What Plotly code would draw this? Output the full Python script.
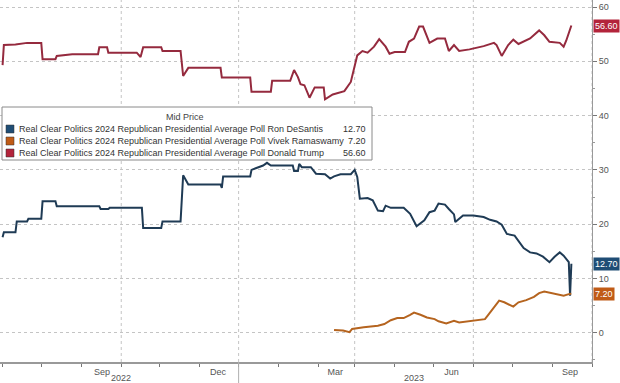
import plotly.graph_objects as go

# ---------------- data ----------------
trump_dates = ["2022-06-01","2022-06-02","2022-06-11","2022-06-20","2022-07-01","2022-07-02","2022-07-12","2022-07-13",
    "2022-07-25","2022-08-14","2022-08-15","2022-08-21","2022-08-22","2022-09-13","2022-09-16","2022-09-18","2022-10-02",
    "2022-10-03","2022-10-17","2022-10-19","2022-10-23","2022-11-17","2022-11-18","2022-12-10","2022-12-11","2022-12-26",
    "2022-12-27","2023-01-10","2023-01-13","2023-01-16","2023-01-18","2023-01-21","2023-01-25","2023-01-29","2023-02-05",
    "2023-02-06","2023-02-12","2023-02-21","2023-02-26","2023-03-01","2023-03-03","2023-03-07","2023-03-11","2023-03-16",
    "2023-03-20","2023-03-25","2023-03-28","2023-04-01","2023-04-09","2023-04-12","2023-04-16","2023-04-20","2023-04-23",
    "2023-04-28","2023-05-04","2023-05-10","2023-05-13","2023-05-17","2023-05-21","2023-05-29","2023-06-09","2023-06-17",
    "2023-06-19","2023-06-23","2023-06-28","2023-07-02","2023-07-06","2023-07-15","2023-07-22","2023-07-26","2023-07-30",
    "2023-08-07","2023-08-10","2023-08-12","2023-08-16"]
trump_vals = [49.3,53.0,53.1,53.4,53.4,50.4,50.4,51.0,
    51.3,51.3,52.6,52.6,51.6,51.6,50.8,52.6,52.6,
    51.9,51.9,47.3,48.8,48.8,47.0,47.0,44.4,44.4,
    46.4,46.4,48.4,47.1,45.8,45.6,43.3,45.2,45.2,
    43.0,43.9,44.5,46.2,49.0,51.1,51.9,51.6,52.7,
    54.1,52.7,51.4,51.7,51.7,53.6,54.2,56.4,56.4,
    53.4,54.2,54.2,51.9,53.0,51.9,52.2,52.8,53.4,
    53.0,51.0,53.0,54.0,53.2,54.2,55.7,54.8,53.6,
    53.4,52.7,53.8,56.6]

desantis_dates = ["2022-06-01","2022-06-02","2022-06-11","2022-06-12","2022-06-20","2022-06-21","2022-07-01","2022-07-02",
    "2022-07-12","2022-07-13","2022-08-15","2022-08-16","2022-08-22","2022-08-23","2022-09-17","2022-09-18","2022-10-02",
    "2022-10-03","2022-10-17","2022-10-18","2022-10-19","2022-10-23","2022-11-17","2022-11-18","2022-11-19","2022-12-10",
    "2022-12-11","2022-12-20","2022-12-23","2022-12-26","2023-01-12","2023-01-13","2023-01-16","2023-01-17","2023-01-19",
    "2023-01-26","2023-01-30","2023-02-06","2023-02-10","2023-02-13","2023-02-18","2023-02-26","2023-03-01","2023-03-03",
    "2023-03-05","2023-03-11","2023-03-15","2023-03-19","2023-03-23","2023-03-25","2023-03-29","2023-04-08","2023-04-13",
    "2023-04-18","2023-04-24","2023-04-28","2023-05-02","2023-05-05","2023-05-10","2023-05-13","2023-05-17","2023-05-18",
    "2023-05-21","2023-05-24","2023-06-01","2023-06-09","2023-06-14","2023-06-19","2023-06-23","2023-06-27","2023-07-03",
    "2023-07-06","2023-07-10","2023-07-15","2023-07-20","2023-07-25","2023-07-30","2023-08-03","2023-08-07","2023-08-10",
    "2023-08-14","2023-08-15","2023-08-16"]
desantis_vals = [17.6,18.5,18.5,20.5,20.5,21.0,21.0,24.2,
    24.2,23.3,23.3,22.8,22.8,23.0,23.0,19.3,19.3,
    20.5,20.5,25.0,29.0,27.3,27.3,26.7,28.8,28.8,
    30.0,30.8,31.3,30.8,30.8,29.8,29.8,31.1,30.5,
    30.5,29.3,29.2,28.4,28.8,29.2,29.2,30.0,28.7,
    24.7,24.8,24.4,22.5,22.4,23.4,23.0,23.0,21.9,
    19.6,20.7,22.2,22.5,23.8,23.6,22.8,21.8,20.4,
    21.0,21.6,21.6,21.3,20.8,20.5,19.9,18.2,17.9,
    17.0,15.6,14.8,14.6,14.0,13.0,14.0,14.8,14.2,
    13.0,6.8,12.7]

rama_dates = ["2023-02-13","2023-02-20","2023-02-25","2023-02-27","2023-03-08","2023-03-19","2023-03-24","2023-03-29",
    "2023-04-03","2023-04-08","2023-04-13","2023-04-16","2023-04-21","2023-04-26","2023-05-02","2023-05-05","2023-05-11",
    "2023-05-17","2023-05-21","2023-05-29","2023-06-04","2023-06-10","2023-06-13","2023-06-17","2023-06-21","2023-06-25",
    "2023-06-29","2023-07-02","2023-07-06","2023-07-12","2023-07-18","2023-07-22","2023-07-26","2023-07-30","2023-08-04",
    "2023-08-10","2023-08-14","2023-08-16"]
rama_vals = [0.5,0.4,0.1,0.7,1.0,1.3,1.6,2.3,
    2.7,2.7,3.3,3.7,3.3,2.8,2.5,2.1,1.7,
    2.2,1.9,2.1,2.3,2.5,3.4,4.7,5.9,5.6,
    5.2,4.8,5.6,6.0,6.6,7.3,7.6,7.4,7.1,
    6.8,7.1,7.2]

series_names = ["Real Clear Politics 2024 Republican Presidential Average Poll Ron DeSantis",
                "Real Clear Politics 2024 Republican Presidential Average Poll Vivek Ramaswamy",
                "Real Clear Politics 2024 Republican Presidential Average Poll Donald Trump"]
last_labels = ["12.70", "7.20", "56.60"]
last_values = [12.7, 7.2, 56.6]

month_tick_pos = ["2022-08-17", "2022-11-15", "2023-02-14", "2023-05-15", "2023-08-15"]
month_tick_text = ["Sep", "Dec", "Mar", "Jun", "Sep"]
quarter_grid = ["2022-09-01", "2022-12-01", "2023-03-01", "2023-06-01", "2023-09-01"]
year_labels = ["2022", "2023"]
year_pos = ["2022-09-01", "2023-04-16"]
year_sep = "2022-12-01"

line_colors = ["#1f3b55", "#b5641f", "#952a3e"]
box_colors = ["#1f4d75", "#c05b16", "#b3243b"]

# ---------------- figure ----------------
fig = go.Figure()
for d, v, c, n in [(desantis_dates, desantis_vals, line_colors[0], series_names[0]),
                   (rama_dates, rama_vals, line_colors[1], series_names[1]),
                   (trump_dates, trump_vals, line_colors[2], series_names[2])]:
    fig.add_trace(go.Scatter(x=d, y=v, mode="lines", name=n,
                             line=dict(color=c, width=2), showlegend=False))

W, H = 620, 383
ml, mr, mt, mb = 0, 28, 0, 21
pw, ph = W - ml - mr, H - mt - mb

def px(x):
    return (x - ml) / pw

def py(y):
    return 1 - (y - mt) / ph

shapes = []
for q in quarter_grid:
    shapes.append(dict(type="line", xref="x", yref="paper", x0=q, x1=q, y0=0, y1=1,
                       line=dict(color="#c4c4c4", width=1, dash="dot"), layer="below"))
shapes.append(dict(type="line", xref="x", yref="paper", x0=year_sep, x1=year_sep,
                   y0=0, y1=py(383), line=dict(color="#b0b0b0", width=1)))

# legend box
lx0, lx1, ly0, ly1 = 2, 372, 107, 160
shapes.append(dict(type="rect", xref="paper", yref="paper", x0=px(lx0), x1=px(lx1),
                   y0=py(ly1), y1=py(ly0), fillcolor="white",
                   line=dict(color="#8a8a8a", width=1), layer="above"))

annotations = []
annotations.append(dict(xref="paper", yref="paper", x=px(185), y=py(117), text="Mid Price",
                        showarrow=False, font=dict(size=9, color="#444"), xanchor="center", yanchor="middle"))
row_y = [129, 141, 153]
for i in range(3):
    shapes.append(dict(type="rect", xref="paper", yref="paper", x0=px(6), x1=px(14),
                       y0=py(row_y[i] + 4), y1=py(row_y[i] - 4), fillcolor=box_colors[i],
                       line=dict(color="#333", width=0.5), layer="above"))
    annotations.append(dict(xref="paper", yref="paper", x=px(17), y=py(row_y[i]), text=series_names[i],
                            showarrow=False, font=dict(size=9, color="#333"), xanchor="left", yanchor="middle"))
    annotations.append(dict(xref="paper", yref="paper", x=px(368), y=py(row_y[i]), text=last_labels[i],
                            showarrow=False, font=dict(size=9, color="#333"), xanchor="right", yanchor="middle"))
    annotations.append(dict(xref="paper", yref="y", x=1.0, y=last_values[i], text=last_labels[i],
                            showarrow=False, font=dict(size=9, color="white"), xanchor="left", yanchor="middle",
                            bgcolor=box_colors[i], borderpad=1, xshift=1))

for t, p in zip(year_labels, year_pos):
    annotations.append(dict(xref="x", yref="paper", x=p, y=py(378), text=t, showarrow=False,
                            font=dict(size=9, color="#555"), xanchor="center", yanchor="middle"))

fig.update_layout(
    width=W, height=H,
    margin=dict(l=ml, r=mr, t=mt, b=mb),
    paper_bgcolor="white", plot_bgcolor="white",
    font=dict(family="Liberation Sans, Arial, sans-serif", size=9, color="#555"),
    shapes=shapes, annotations=annotations,
    xaxis=dict(range=["2022-05-30", "2023-09-01"], showgrid=False, zeroline=False,
               tickmode="array", tickvals=month_tick_pos, ticktext=month_tick_text,
               ticks="", showline=True, linecolor="#999", linewidth=1.5,
               tickfont=dict(size=9, color="#555"),
               minor=dict(dtick="M1", tick0="2022-06-01", ticks="outside", ticklen=3,
                          tickcolor="#777", showgrid=False)),
    yaxis=dict(side="right", range=[-5.4, 61.3], tickvals=[0, 10, 20, 30, 40, 50, 60],
               showgrid=True, gridcolor="#c4c4c4", griddash="dot", gridwidth=1,
               zeroline=False, showline=True, linecolor="#999", linewidth=1,
               ticks="outside", ticklen=4, tickcolor="#777",
               tickfont=dict(size=9, color="#555"),
               minor=dict(dtick=5, ticks="outside", ticklen=2, tickcolor="#999", showgrid=False)),
)

fig.write_html("out.html", config={"displayModeBar": False},
               post_script="document.body.style.margin='0px';document.body.style.overflow='hidden';")
